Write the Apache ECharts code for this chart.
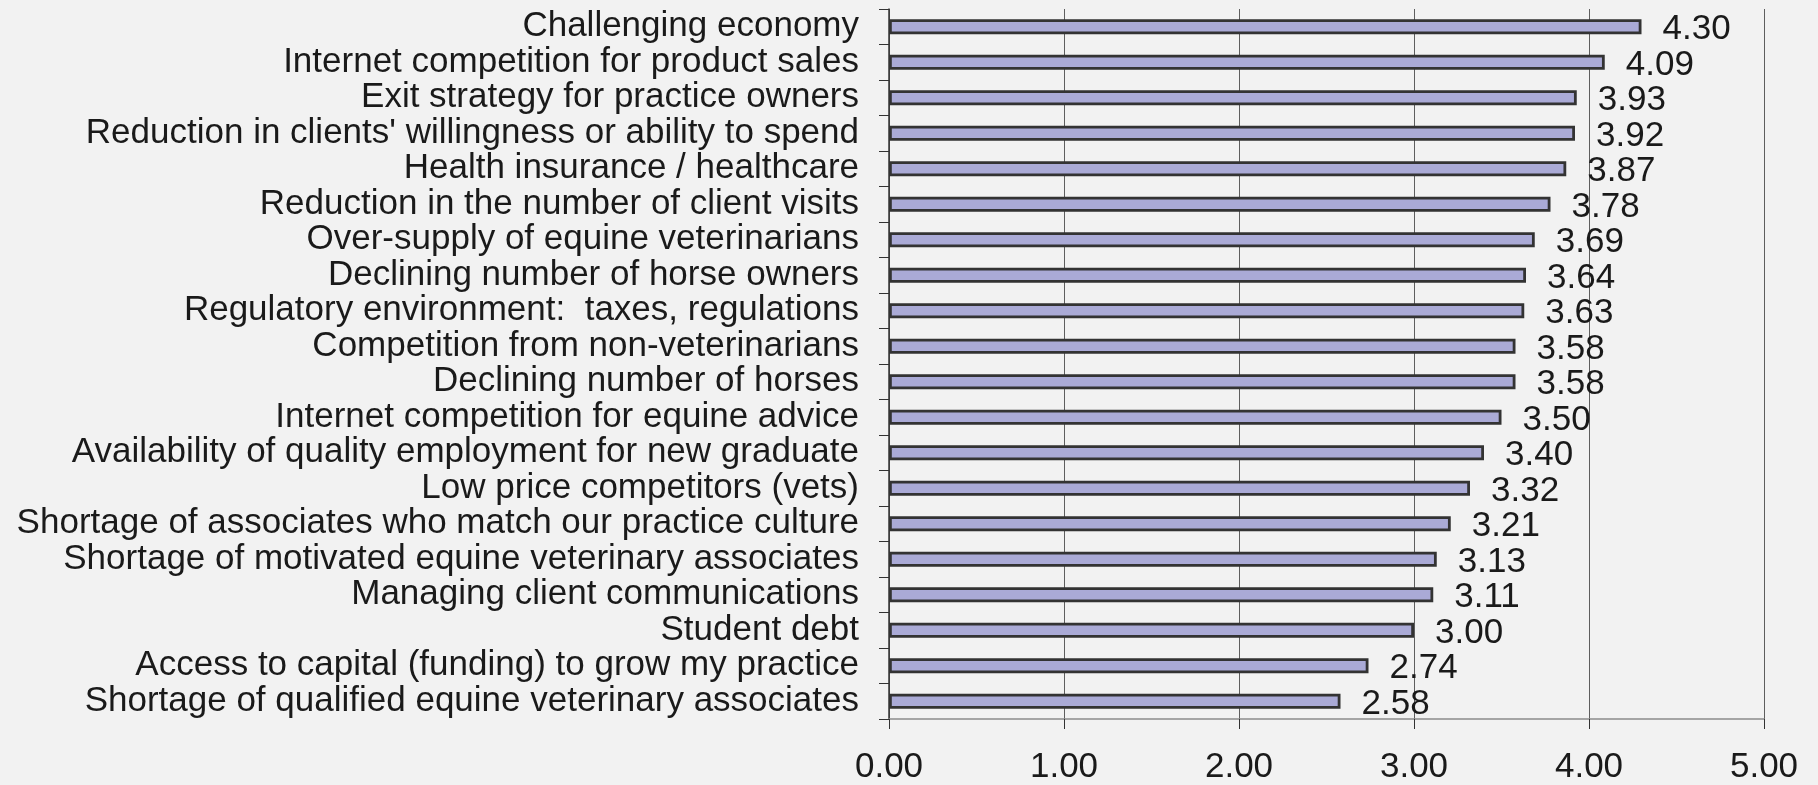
<!DOCTYPE html>
<html>
<head>
<meta charset="utf-8">
<script src="https://cdn.jsdelivr.net/npm/echarts@6/dist/echarts.min.js"></script>
<style>
html, body { margin: 0; padding: 0; background: #f2f2f2; }
#chart { width: 1818px; height: 785px; }
</style>
</head>
<body>
<div id="chart"></div>
<script>
var categories = [
    "Challenging economy",
    "Internet competition for product sales",
    "Exit strategy for practice owners",
    "Reduction in clients' willingness or ability to spend",
    "Health insurance / healthcare",
    "Reduction in the number of client visits",
    "Over-supply of equine veterinarians",
    "Declining number of horse owners",
    "Regulatory environment:  taxes, regulations",
    "Competition from non-veterinarians",
    "Declining number of horses",
    "Internet competition for equine advice",
    "Availability of quality employment for new graduate",
    "Low price competitors (vets)",
    "Shortage of associates who match our practice culture",
    "Shortage of motivated equine veterinary associates",
    "Managing client communications",
    "Student debt",
    "Access to capital (funding) to grow my practice",
    "Shortage of qualified equine veterinary associates"
];
var scores = [4.30, 4.09, 3.93, 3.92, 3.87, 3.78, 3.69, 3.64, 3.63, 3.58,
              3.58, 3.50, 3.40, 3.32, 3.21, 3.13, 3.11, 3.00, 2.74, 2.58];
var xTicks = [0, 1, 2, 3, 4, 5];

var dom = document.getElementById("chart");
var chart = echarts.init(dom, null, { renderer: 'canvas' });
var fontFamily = '"Liberation Sans", Arial, sans-serif';

var option = {
    backgroundColor: '#f2f2f2',
    animation: false,
    textStyle: { fontFamily: fontFamily },
    grid: {
        left: 889,
        right: 54,
        top: 9,
        bottom: 60,
        containLabel: false
    },
    xAxis: {
        type: 'value',
        min: xTicks[0],
        max: xTicks[xTicks.length - 1],
        interval: 1,
        axisLine: { show: true, lineStyle: { color: '#8c8c8c', width: 1.5 } },
        axisTick: { show: true, length: 10, lineStyle: { color: '#333', width: 1 } },
        axisLabel: {
            margin: 31,
            fontSize: 35,
            color: '#1a1a1a',
            fontFamily: fontFamily,
            formatter: function (v) { return v.toFixed(2); }
        },
        splitLine: { show: true, lineStyle: { color: '#5e5e5e', width: 1 } }
    },
    yAxis: {
        type: 'category',
        inverse: true,
        data: categories,
        axisLine: { show: true, lineStyle: { color: '#333', width: 1.5 } },
        axisTick: { show: true, length: 10, lineStyle: { color: '#333', width: 1 } },
        axisLabel: {
            interval: 0,
            margin: 30,
            fontSize: 35,
            color: '#1a1a1a',
            fontFamily: fontFamily,
            padding: [5, 0, 0, 0]
        }
    },
    series: [
        {
            type: 'bar',
            data: scores,
            barWidth: 15,
            itemStyle: {
                color: '#aaaad6',
                borderColor: '#333333',
                borderWidth: 2.8
            },
            label: {
                show: true,
                position: 'right',
                distance: 21,
                fontSize: 35,
                color: '#1a1a1a',
                fontFamily: fontFamily,
                offset: [0, 3],
                formatter: function (p) { return p.value.toFixed(2); }
            }
        }
    ]
};

if (option && typeof option === "object") {
    chart.setOption(option, true);
}
</script>
</body>
</html>
